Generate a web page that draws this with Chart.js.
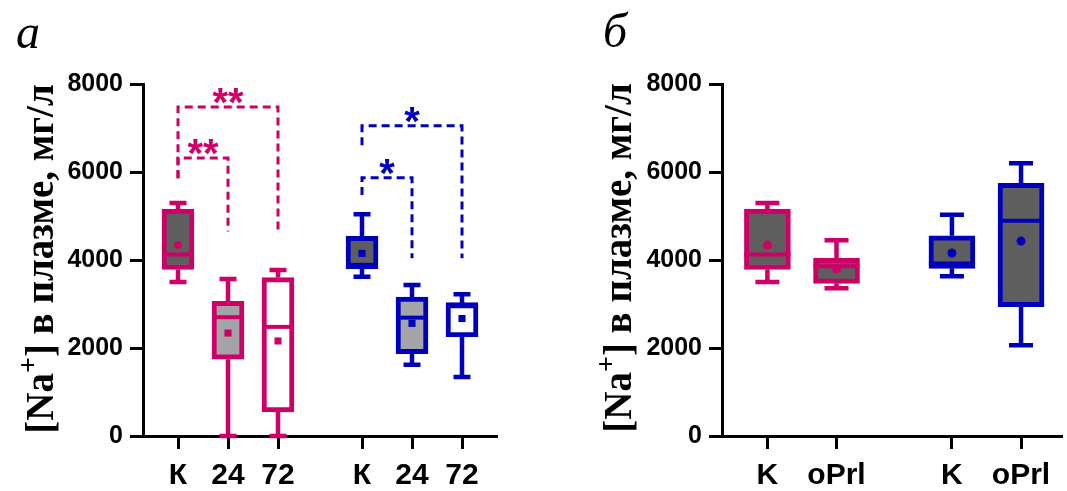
<!DOCTYPE html>
<html>
<head>
<meta charset="utf-8">
<script src="https://cdn.jsdelivr.net/npm/chart.js@4.4.1/dist/chart.umd.min.js"></script>
<style>
  html, body { margin: 0; padding: 0; background: #fff; }
  #wrap { position: relative; width: 1067px; height: 491px; overflow: hidden; }
  canvas { position: absolute; top: 0; }
  #chartA { left: 0; }
  #chartB { left: 560px; }
  .panel { position: absolute; font: italic 48px 'Liberation Serif', 'DejaVu Serif', serif; line-height: 48px; }
  .ytitle { position: absolute; font: bold 39px 'Liberation Serif', 'DejaVu Serif', serif; line-height: 39px;
            white-space: nowrap; transform: translate(-50%, -50%) rotate(-90deg); }
  .ytitle sup { font-size: 0.72em; line-height: 0; vertical-align: 0.55em; }
</style>
</head>
<body>
<div id="wrap">
  <canvas id="chartA" width="540" height="491"></canvas>
  <canvas id="chartB" width="507" height="491"></canvas>
  <div class="panel" style="left:16px; top:8px;">а</div>
  <div class="panel" style="left:603px; top:7px;">б</div>
  <div class="ytitle" style="left:39px; top:259px;">[Na<sup>+</sup>] в плазме, мг/л</div>
  <div class="ytitle" style="left:617px; top:258px;">[Na<sup>+</sup>] в плазме, мг/л</div>
</div>
<script>
// panel а: two groups (pink / blue), control + 24 h + 72 h
const labelsA = ['К', '24', '72', 'К', '24', '72'];
const groupA  = [0, 0, 0, 1, 1, 1];
const minA    = [3500,    0,    0, 3620, 1620, 1340];
const q1A     = [3785, 1745,  550, 3800, 1870, 2250];
const medA    = [4125, 2700, 2480, 3890, 2690, 2990];
const q3A     = [5160, 3060, 3600, 4540, 3160, 3010];
const maxA    = [5295, 3570, 3770, 5040, 3430, 3220];
const meanA   = [4340, 2340, 2160, 4150, 2560, 2670];

// significance brackets for panel а (category indexes + heights in mg/l)
const sigFrom     = [0, 0, 3, 3];
const sigTo       = [2, 1, 5, 4];
const sigTop      = [7480, 6320, 7050, 5870];
const sigLeftEnd  = [5860, 5860, 6610, 5475];
const sigRightEnd = [4650, 4650, 4040, 4040];
const sigMark     = ['**', '**', '*', '*'];

// panel б: control vs oPrl
const labelsB = ['K', 'oPrl', 'K', 'oPrl'];
const groupB  = [0, 0, 1, 1];
const minB    = [3500, 3360, 3630, 2060];
const q1B     = [3785, 3470, 3810, 2940];
const medB    = [4125, 3860, 3920, 4890];
const q3B     = [5160, 4040, 4550, 5740];
const maxB    = [5295, 4450, 5030, 6200];
const meanB   = [4340, 3800, 4160, 4430];

const yTicks = [0, 2000, 4000, 6000, 8000];

const PINK = '#cc0066', BLUE = '#0000bb';
const lineColor = [PINK, BLUE];
const fillFor = { 'К': '#5e5e5e', 'K': '#5e5e5e', 'oPrl': '#5e5e5e', '24': '#a4a4a8', '72': '#ffffff' };

const tickFont = size => ({ family: "'Liberation Sans', Arial, sans-serif", weight: 'bold', size });

// whiskers + median line, drawn right after the boxes
const boxExtras = {
  id: 'boxExtras',
  afterDatasetDraw(chart, args) {
    if (args.meta.type !== 'bar') return;
    const st = chart.options.plugins.boxExtras;
    const y = chart.scales.y, ctx = chart.ctx;
    ctx.save();
    args.meta.data.forEach((el, i) => {
      const x = el.x, w = el.width;
      ctx.strokeStyle = st.colors[i];
      ctx.lineCap = 'butt';
      ctx.lineWidth = 4.5;
      const top = y.getPixelForValue(st.max[i]), bot = y.getPixelForValue(st.min[i]);
      const hi = y.getPixelForValue(st.q3[i]), lo = y.getPixelForValue(st.q1[i]);
      const cap = w / 2 + 1;
      ctx.beginPath();
      ctx.moveTo(x, hi); ctx.lineTo(x, top);
      ctx.moveTo(x - cap / 2, top); ctx.lineTo(x + cap / 2, top);
      ctx.moveTo(x, lo); ctx.lineTo(x, bot);
      ctx.moveTo(x - cap / 2, bot); ctx.lineTo(x + cap / 2, bot);
      ctx.stroke();
      const m = y.getPixelForValue(st.med[i]);
      ctx.lineWidth = 4;
      ctx.beginPath();
      ctx.moveTo(x - w / 2, m); ctx.lineTo(x + w / 2, m);
      ctx.stroke();
    });
    ctx.restore();
  }
};

// dashed comparison brackets with asterisks
const brackets = {
  id: 'brackets',
  afterDatasetsDraw(chart) {
    const st = chart.options.plugins.brackets;
    if (!st || !st.from) return;
    const xs = chart.scales.x, ys = chart.scales.y, ctx = chart.ctx;
    ctx.save();
    st.from.forEach((f, k) => {
      const xl = xs.getPixelForValue(st.pos[f]);
      const xr = xs.getPixelForValue(st.pos[st.to[k]]);
      const yt = ys.getPixelForValue(st.top[k]);
      ctx.strokeStyle = ctx.fillStyle = st.colors[k];
      ctx.lineWidth = 3;
      ctx.setLineDash([8, 5]);
      ctx.beginPath();
      ctx.moveTo(xl, ys.getPixelForValue(st.leftEnd[k]));
      ctx.lineTo(xl, yt);
      ctx.lineTo(xr, yt);
      ctx.lineTo(xr, ys.getPixelForValue(st.rightEnd[k]));
      ctx.stroke();
      ctx.setLineDash([]);
      ctx.font = "bold 40px 'Liberation Sans', Arial, sans-serif";
      ctx.textAlign = 'center';
      ctx.textBaseline = 'alphabetic';
      ctx.fillText(st.mark[k], (xl + xr) / 2, yt + 9);
    });
    ctx.restore();
  }
};

function makePanel(canvasId, cfg) {
  const pos = cfg.labels.map((_, i) => i + 1 + (cfg.group[i] ? cfg.gap : 0));
  const colors = cfg.group.map(g => lineColor[g]);
  return new Chart(document.getElementById(canvasId), {
    type: 'bar',
    data: {
      datasets: [
        {
          type: 'scatter',
          data: pos.map((x, i) => ({ x, y: cfg.mean[i] })),
          pointStyle: cfg.dot,
          pointRadius: cfg.dotRadius,
          backgroundColor: colors,
          borderWidth: 0,
          order: 0
        },
        {
          data: pos.map((x, i) => ({ x, y: [cfg.q1[i], cfg.q3[i]] })),
          backgroundColor: cfg.labels.map(l => fillFor[l]),
          borderColor: colors,
          borderWidth: 5,
          borderSkipped: false,
          barThickness: cfg.boxWidth,
          order: 1
        }
      ]
    },
    options: {
      responsive: false,
      animation: false,
      events: [],
      layout: { padding: { top: 84, right: cfg.padRight, bottom: 0, left: 0 } },
      plugins: {
        legend: { display: false },
        tooltip: { enabled: false },
        boxExtras: { colors, min: cfg.min, q1: cfg.q1, med: cfg.med, q3: cfg.q3, max: cfg.max },
        brackets: cfg.sig ? Object.assign({ pos, colors: cfg.sig.from.map(f => colors[f]) }, cfg.sig) : {}
      },
      scales: {
        x: {
          type: 'linear',
          min: cfg.xMin,
          max: cfg.xMax,
          offset: false,
          afterBuildTicks: s => { s.ticks = pos.map(v => ({ value: v })); },
          afterFit: s => { s.height = 55; },
          grid: { drawOnChartArea: false, offset: false, tickLength: 13, tickWidth: 3, tickColor: '#000' },
          border: { width: 3, color: '#000' },
          ticks: {
            autoSkip: false, maxRotation: 0, padding: 9, color: '#000',
            font: tickFont(30),
            callback: (v, i) => cfg.labels[i]
          }
        },
        y: {
          min: 0,
          max: 8000,
          afterFit: s => { s.width = cfg.yWidth; },
          afterBuildTicks: s => { s.ticks = yTicks.map(v => ({ value: v })); },
          grid: { drawOnChartArea: false, tickLength: 13, tickWidth: 3, tickColor: '#000' },
          border: { width: 3, color: '#000' },
          ticks: { padding: 7, color: '#000', font: tickFont(25), callback: v => String(v) }
        }
      }
    },
    plugins: [boxExtras, brackets]
  });
}

makePanel('chartA', {
  labels: labelsA, group: groupA, gap: 0.68,
  min: minA, q1: q1A, med: medA, q3: q3A, max: maxA, mean: meanA,
  dot: 'rect', dotRadius: 5, boxWidth: 32,
  xMin: 0.3, xMax: 7.38, yWidth: 143, padRight: 43,
  sig: { from: sigFrom, to: sigTo, top: sigTop, leftEnd: sigLeftEnd, rightEnd: sigRightEnd, mark: sigMark }
});

makePanel('chartB', {
  labels: labelsB, group: groupB, gap: 0.67,
  min: minB, q1: q1B, med: medB, q3: q3B, max: maxB, mean: meanB,
  dot: 'circle', dotRadius: 4.5, boxWidth: 46,
  xMin: 0.343, xMax: 5.27, yWidth: 162, padRight: 0
});
</script>
</body>
</html>
